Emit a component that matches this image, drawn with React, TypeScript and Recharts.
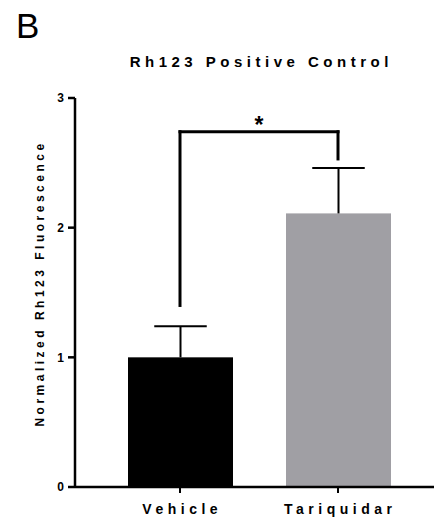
import React from 'react';
import { BarChart, Bar, Cell, XAxis, YAxis, ReferenceLine, Label } from 'recharts';

const categories = ['Vehicle', 'Tariquidar'];
const means = [1.0, 2.11];
const sem = [0.24, 0.35];
const barColors = ['#000000', '#a09fa4'];
const yTicks = [0, 1, 2, 3];

// significance bracket (in data units)
const bracketTop = 2.74;
const bracketLeftEnd = 1.4;
const bracketRightEnd = 2.53;

const data = categories.map((name, i) => ({ name, mean: means[i], err: sem[i] }));

const FONT = '"Liberation Sans", Arial, sans-serif';

// bar plus upward-only error whisker, like GraphPad draws it
const BarWithError = (props: any) => {
  const { x, y, width, height, payload, fill } = props;
  const pxPerUnit = height / payload.mean;
  const topY = y - payload.err * pxPerUnit;
  const cx = x + width / 2;
  const capHalf = width / 4;
  return (
    <g>
      <rect x={x} y={y} width={width} height={height} fill={fill} />
      <line x1={cx} x2={cx} y1={y} y2={topY} stroke="#000" strokeWidth={2} />
      <line x1={cx - capHalf} x2={cx + capHalf} y1={topY} y2={topY} stroke="#000" strokeWidth={2} />
    </g>
  );
};

const XTick = (props: any) => {
  const { x, y, payload } = props;
  return (
    <text
      x={x}
      y={y}
      dx={2.25}
      dy="0.71em"
      textAnchor="middle"
      fill="#000"
      fontFamily={FONT}
      fontSize={14}
      fontWeight="bold"
      style={{ letterSpacing: 4.5 }}
    >
      {payload.value}
    </text>
  );
};

export default function App() {
  return (
    <div style={{ position: 'absolute', left: 0, top: 0, width: 438, height: 529, background: '#fff' }}>
      <div
        style={{
          position: 'absolute',
          left: 16,
          top: 8,
          fontFamily: FONT,
          fontSize: 35,
          lineHeight: '35px',
          color: '#000',
        }}
      >
        B
      </div>
      <div
        style={{
          position: 'absolute',
          left: 259,
          top: 54,
          transform: 'translateX(-50%)',
          fontFamily: FONT,
          fontSize: 15,
          lineHeight: '15px',
          fontWeight: 'bold',
          letterSpacing: 4.5,
          paddingLeft: 4.5,
          whiteSpace: 'nowrap',
          color: '#000',
        }}
      >
        Rh123 Positive Control
      </div>
      <BarChart width={438} height={529} data={data} margin={{ top: 98, right: 4, bottom: 0, left: 0 }}>
        <XAxis
          dataKey="name"
          height={42}
          padding={{ left: 26, right: 17 }}
          axisLine={{ stroke: '#000', strokeWidth: 2.5 }}
          tickLine={{ stroke: '#000', strokeWidth: 2 }}
          tickSize={6}
          tickMargin={11}
          tick={<XTick />}
          interval={0}
        />
        <YAxis
          width={75}
          domain={[0, 3]}
          ticks={yTicks}
          interval={0}
          axisLine={{ stroke: '#000', strokeWidth: 2.5 }}
          tickLine={{ stroke: '#000', strokeWidth: 2.5 }}
          tickSize={7}
          tickMargin={4}
          tick={{ fill: '#000', fontSize: 12, fontWeight: 'bold', fontFamily: FONT }}
        >
          <Label
            value="Normalized Rh123 Fluorescence"
            angle={-90}
            position="center"
            dx={2}
            dy={-9}
            fill="#000"
            fontFamily={FONT}
            fontSize={12}
            fontWeight="bold"
            style={{ letterSpacing: 3.5 }}
          />
        </YAxis>
        <Bar dataKey="mean" barSize={105} shape={<BarWithError />} isAnimationActive={false}>
          {data.map((d, i) => (
            <Cell key={d.name} fill={barColors[i]} />
          ))}
        </Bar>
        <ReferenceLine
          segment={[
            { x: categories[0], y: bracketTop },
            { x: categories[1], y: bracketTop },
          ]}
          stroke="#000"
          strokeWidth={3}
          strokeLinecap="square"
          label={{ value: '*', position: 'top', offset: -1, fontSize: 23, fontWeight: 'bold', fill: '#000', fontFamily: FONT }}
        />
        <ReferenceLine
          segment={[
            { x: categories[0], y: bracketLeftEnd },
            { x: categories[0], y: bracketTop },
          ]}
          stroke="#000"
          strokeWidth={3}
          strokeLinecap="square"
        />
        <ReferenceLine
          segment={[
            { x: categories[1], y: bracketRightEnd },
            { x: categories[1], y: bracketTop },
          ]}
          stroke="#000"
          strokeWidth={3}
          strokeLinecap="square"
        />
      </BarChart>
    </div>
  );
}
